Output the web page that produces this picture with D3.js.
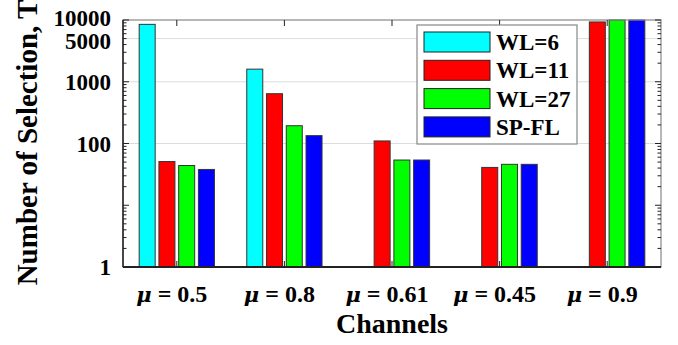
<!DOCTYPE html>
<html><head><meta charset="utf-8">
<script src="https://cdn.jsdelivr.net/npm/d3@7"></script>
<style>body{margin:0;background:#fff}svg{display:block}text{font-family:"Liberation Serif","Times New Roman",serif;font-weight:bold;fill:#000}</style>
</head><body>
<script>
const categories = ["0.5", "0.8", "0.61", "0.45", "0.9"];
const seriesNames = ["WL=6", "WL=11", "WL=27", "SP-FL"];
const seriesColors = ["#00ffff", "#ff0000", "#00ff00", "#0000ff"];
const wl6 = [8500, 1600, 1, 1, 1];
const wl11 = [51, 640, 110, 41, 9300];
const wl27 = [44, 194, 54, 46, 12000];
const spfl = [38, 134, 54, 46, 12000];
const yTickValues = [1, 100, 1000, 5000, 10000];
const gridValues = [100, 1000, 5000];

const W = 678, H = 345;
const m = {l: 123, r: 17, t: 20, b: 78};
const pw = W - m.l - m.r, ph = H - m.t - m.b;
const svg = d3.select("body").append("svg").attr("width", W).attr("height", H);
const g = svg.append("g").attr("transform", `translate(${m.l},${m.t})`);

const x0 = d3.scaleBand().domain(categories).range([0, pw]).paddingInner(0).paddingOuter(0);
const groupW = 79;
const x1 = d3.scaleBand().domain(seriesNames).range([0, groupW]).paddingInner(0.19).paddingOuter(0.095);
const y = d3.scaleLog().domain([1, 10000]).range([ph, 0]).clamp(true);

// grid
g.selectAll(".grid").data(gridValues).enter().append("line")
  .attr("x1", 0).attr("x2", pw).attr("y1", d => y(d)).attr("y2", d => y(d))
  .attr("stroke", "#dcdcdc").attr("stroke-width", 1);

const series = [wl6, wl11, wl27, spfl];
const data = categories.map((c, i) => ({c, vals: series.map((s, j) => ({name: seriesNames[j], v: s[i], col: seriesColors[j]}))}));
const grp = g.selectAll(".grp").data(data).enter().append("g")
  .attr("transform", d => `translate(${x0(d.c) + x0.bandwidth()/2 - groupW/2},0)`);
grp.selectAll("rect").data(d => d.vals).enter().append("rect")
  .attr("x", d => x1(d.name)).attr("width", x1.bandwidth())
  .attr("y", d => y(d.v)).attr("height", d => ph - y(d.v))
  .attr("fill", d => d.col).attr("stroke", "#333").attr("stroke-width", 1);

// frame
g.append("rect").attr("x", 0).attr("y", 0).attr("width", pw).attr("height", ph)
  .attr("fill", "none").attr("stroke", "#888").attr("stroke-width", 1.2);
g.append("line").attr("x1", 0).attr("x2", pw).attr("y1", ph).attr("y2", ph).attr("stroke", "#222").attr("stroke-width", 2);
g.append("line").attr("x1", 0).attr("x2", 0).attr("y1", 0).attr("y2", ph).attr("stroke", "#222").attr("stroke-width", 1.5);

// log minor ticks
const minor = [];
for (let e = 0; e < 4; e++) for (let k = 1; k <= 9; k++) minor.push(k * Math.pow(10, e));
minor.push(10000);
[0, pw].forEach(xx => {
  const dir = xx === 0 ? 1 : -1;
  g.selectAll(null).data(minor).enter().append("line")
    .attr("x1", xx).attr("x2", d => xx + dir * (Math.abs(Math.log10(d) - Math.round(Math.log10(d))) < 1e-9 ? 6 : 3.5))
    .attr("y1", d => y(d)).attr("y2", d => y(d)).attr("stroke", "#222").attr("stroke-width", 1);
});
// x ticks top/bottom
g.selectAll(null).data(categories).enter().append("line")
  .attr("x1", d => x0(d) + x0.bandwidth()/2).attr("x2", d => x0(d) + x0.bandwidth()/2)
  .attr("y1", 0).attr("y2", 6).attr("stroke", "#222");
g.selectAll(null).data(categories).enter().append("line")
  .attr("x1", d => x0(d) + x0.bandwidth()/2).attr("x2", d => x0(d) + x0.bandwidth()/2)
  .attr("y1", ph).attr("y2", ph - 6).attr("stroke", "#222");

// y tick labels
const nudge = {10000: -2, 5000: 2};
g.selectAll(".yl").data(yTickValues).enter().append("text")
  .attr("x", -12).attr("y", d => y(d) + (nudge[d] || 0)).attr("dy", "0.35em").attr("text-anchor", "end")
  .style("font-size", "23px").text(d => d);

// x tick labels
const xl = g.selectAll(".xl").data(categories).enter().append("text")
  .attr("x", d => x0(d) + x0.bandwidth()/2 - 5).attr("y", ph + 35).attr("text-anchor", "middle")
  .style("font-size", "24px");
xl.append("tspan").style("font-style", "italic").style("font-family", "'DejaVu Serif', serif").style("font-size", "21px").text("μ");
xl.append("tspan").text(d => " = " + d);

// axis titles
svg.append("text").attr("x", m.l + pw/2).attr("y", 333).attr("text-anchor", "middle")
  .style("font-size", "28px").text("Channels");
svg.append("text").attr("transform", `translate(37,${m.t + ph/2 - 1}) rotate(-90)`).attr("text-anchor", "middle")
  .style("font-size", "29px").text("Number of Selection, T");

// legend
const lg = svg.append("g").attr("transform", "translate(417,25)");
lg.append("rect").attr("width", 160).attr("height", 119).attr("fill", "#fff").attr("stroke", "#888").attr("stroke-width", 1.2);
const li = lg.selectAll(".li").data(seriesNames).enter().append("g")
  .attr("transform", (d, i) => `translate(7,${7 + i * 28.3})`);
li.append("rect").attr("width", 66).attr("height", 20).attr("fill", (d, i) => seriesColors[i]).attr("stroke", "#222");
li.append("text").attr("x", 72).attr("y", 10).attr("dy", "0.35em").style("font-size", "23px").text(d => d);
</script>
</body></html>
